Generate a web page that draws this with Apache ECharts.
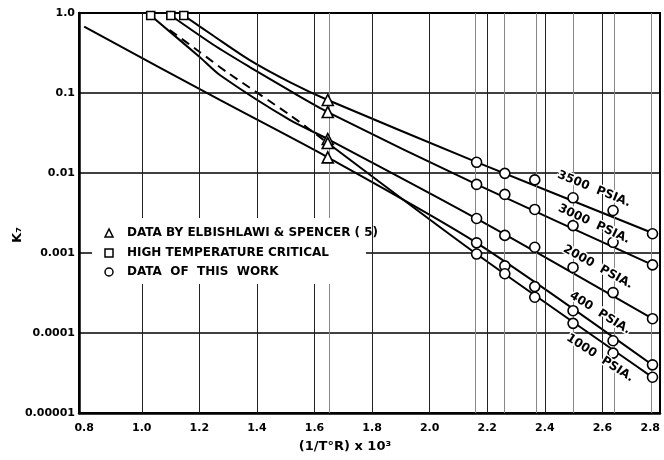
<!DOCTYPE html>
<html><head><meta charset="utf-8">
<script src="https://cdn.jsdelivr.net/npm/echarts@6/dist/echarts.min.js"></script>
<style>html,body{margin:0;padding:0;background:#fff}#c{width:664px;height:460px}</style>
</head><body><div id="c"></div>
<script>
// ---- data ----
const xTickLabels = [0.8, 1.0, 1.2, 1.4, 1.6, 1.8, 2.0, 2.2, 2.4, 2.6, 2.8];
const yTickLabels = ['0.00001', '0.0001', '0.001', '0.01', '0.1', '1.0'];
const majorGridX = [1.0, 1.2, 1.4, 1.6, 1.8, 2.0, 2.2, 2.4, 2.6];
const dataX = [2.163, 2.261, 2.365, 2.498, 2.637, 2.774];
const triangleX = 1.646;
const minorGridX = [1.646, 2.163, 2.261, 2.365, 2.498, 2.637, 2.774];

const k3500 = [0.0136, 0.0099, 0.0082, 0.0049, 0.0034, 0.00174];
const k3000 = [0.0072, 0.0054, 0.0035, 0.0022, 0.00136, 0.00071];
const k2000 = [0.0027, 0.00166, 0.00118, 0.00066, 0.00032, 0.000151];
const k400  = [0.00134, 0.00069, 0.00038, 0.00019, 0.00008, 0.00004];
const k1000 = [0.00097, 0.00055, 0.00028, 0.000132, 0.000056, 0.000028];

const triangleK = [0.0818, 0.0578, 0.0266, 0.0237, 0.0157];
const squareX = [1.031, 1.101, 1.146];
const squareK = [0.93, 0.93, 0.93];

// fitted curves
const curve3500 = [[1.146, 0.93], [1.250, 0.516], [1.375, 0.258], [1.514, 0.137], [1.646, 0.0818], [2.163, 0.0137], [2.774, 0.00178]];
const curve3000 = [[1.101, 0.93], [1.250, 0.398], [1.375, 0.211], [1.514, 0.107], [1.646, 0.0578], [2.163, 0.0072], [2.774, 0.00071]];
const curve2000 = [[1.031, 0.93], [1.201, 0.282], [1.271, 0.168], [1.514, 0.046], [1.646, 0.0266], [2.163, 0.00269], [2.774, 0.000151]];
const curve1000dash = [[1.097, 0.613], [1.201, 0.326], [1.295, 0.183], [1.514, 0.0532], [1.646, 0.0237]];
const curve1000 = [[1.646, 0.0237], [2.163, 0.00097], [2.774, 0.0000279]];
const curve400 = [[0.80, 0.674], [1.271, 0.0818], [1.646, 0.0157], [2.163, 0.00134], [2.774, 0.0000398]];

const curveLabels = ['3500  PSIA.', '3000  PSIA.', '2000  PSIA.', '400  PSIA.', '1000  PSIA.'];
const legendTexts = ['DATA BY ELBISHLAWI & SPENCER ( 5)', 'HIGH TEMPERATURE CRITICAL', 'DATA  OF  THIS  WORK'];

// ---- chart ----
const FONT = 'DejaVu Sans';
const chart = echarts.init(document.getElementById('c'), null, {renderer: 'canvas'});
const zip = (xs, ys) => xs.map((x, i) => [x, ys[i]]);
const lineSeries = (data, dashed) => ({
  type: 'line', data, symbol: 'none', smooth: 0.25, z: 3, silent: true,
  lineStyle: {color: '#000', width: 2, type: dashed ? [9, 6] : 'solid'}
});
const markerSeries = (data, symbol, size) => ({
  type: 'scatter', data, symbol, symbolSize: size, z: 5, silent: true,
  itemStyle: {color: '#fff', borderColor: '#000', borderWidth: 1.6, opacity: 1}
});

const labelPos = [[594, 189, 22], [594, 224, 25], [598, 267, 29], [600, 313, 32], [600, 358, 33]];

const option = {
  animation: false,
  backgroundColor: '#fff',
  grid: {left: 79, right: 4, top: 13, bottom: 47, show: true, borderColor: '#000', borderWidth: 2},
  xAxis: {
    type: 'value', min: 0.782, max: 2.8,
    axisLine: {lineStyle: {color: '#000', width: 2.5}},
    axisTick: {show: false},
    splitLine: {show: false},
    axisLabel: {customValues: xTickLabels, formatter: v => v.toFixed(1), color: '#000',
      fontFamily: FONT, fontWeight: 'bold', fontSize: 11, margin: 10, alignMaxLabel: 'right'}
  },
  yAxis: {
    type: 'log', logBase: 10, min: 0.00001, max: 1,
    axisLine: {show: true, lineStyle: {color: '#000', width: 2.5}},
    axisTick: {show: false},
    splitLine: {show: true, lineStyle: {color: '#000', width: 1.5}},
    axisLabel: {formatter: v => yTickLabels[Math.round(Math.log10(v)) + 5], color: '#000',
      fontFamily: FONT, fontWeight: 'bold', fontSize: 11, margin: 4}
  },
  series: [
    {type: 'line', data: [], silent: true, z: 1,
     markLine: {silent: true, symbol: ['none', 'none'], label: {show: false}, animation: false,
       lineStyle: {color: '#222', width: 1, type: 'solid'},
       data: majorGridX.map(v => ({xAxis: v}))}},
    {type: 'line', data: [], silent: true, z: 1,
     markLine: {silent: true, symbol: ['none', 'none'], label: {show: false}, animation: false,
       lineStyle: {color: '#888', width: 1, type: 'solid'},
       data: minorGridX.map(v => ({xAxis: v}))}},
    lineSeries(curve3500), lineSeries(curve3000), lineSeries(curve2000),
    lineSeries(curve1000dash, true), lineSeries(curve1000), lineSeries(curve400),
    markerSeries(zip(dataX, k3500), 'circle', 10),
    markerSeries(zip(dataX, k3000), 'circle', 10),
    markerSeries(zip(dataX, k2000), 'circle', 10),
    markerSeries(zip(dataX, k400), 'circle', 10),
    markerSeries(zip(dataX, k1000), 'circle', 10),
    markerSeries(triangleK.map(k => [triangleX, k]), 'triangle', 11),
    markerSeries(zip(squareX, squareK), 'rect', 8)
  ],
  graphic: [
    // legend box
    {type: 'rect', z: 50, shape: {x: 92, y: 218, width: 274, height: 66}, style: {fill: '#fff'}},
    {type: 'polygon', z: 51, shape: {points: [[109, 229], [105, 237], [113, 237]]}, style: {fill: '#fff', stroke: '#000', lineWidth: 1.5}},
    {type: 'rect', z: 51, shape: {x: 105, y: 249, width: 8, height: 8}, style: {fill: '#fff', stroke: '#000', lineWidth: 1.5}},
    {type: 'circle', z: 51, shape: {cx: 109, cy: 272, r: 4}, style: {fill: '#fff', stroke: '#000', lineWidth: 1.5}},
    ...legendTexts.map((t, i) => ({type: 'text', z: 52, x: 127, y: [233, 253, 272][i],
      style: {text: t, fill: '#000', font: 'bold 12px "DejaVu Sans"', textAlign: 'left', textVerticalAlign: 'middle'}})),
    // curve labels
    ...curveLabels.map((t, i) => ({type: 'text', z: 52, x: labelPos[i][0], y: labelPos[i][1],
      rotation: -labelPos[i][2] * Math.PI / 180,
      style: {text: t, fill: '#000', font: 'bold 12px "DejaVu Sans"', textAlign: 'center', textVerticalAlign: 'middle',
        stroke: '#fff', lineWidth: 3}})),
    // axis titles
    {type: 'text', z: 52, x: 345, y: 447, style: {text: '(1/T°R) x 10³', fill: '#000', font: 'bold 13px "DejaVu Sans"', textAlign: 'center', textVerticalAlign: 'middle'}},
    {type: 'text', z: 52, x: 18, y: 235, rotation: Math.PI / 2, style: {text: 'K₇', fill: '#000', font: 'bold 13px "DejaVu Sans"', textAlign: 'center', textVerticalAlign: 'middle'}}
  ]
};
chart.setOption(option);
</script></body></html>
